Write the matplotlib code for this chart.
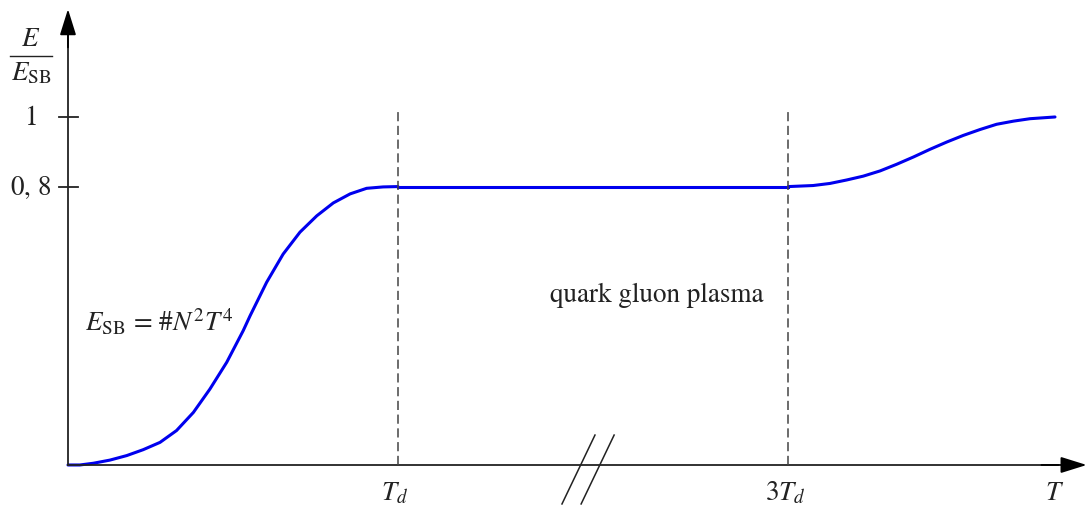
import matplotlib
matplotlib.use("Agg")
import matplotlib.pyplot as plt

plt.rcParams['font.family'] = ['STIXGeneral', 'DejaVu Serif']
plt.rcParams['mathtext.fontset'] = 'stix'

# curve (x in units where T_d = 1, y = E/E_SB)
x_rise = [0.0, 0.036, 0.077, 0.127, 0.178, 0.228, 0.279, 0.329, 0.380, 0.430,
          0.481, 0.531, 0.552, 0.602, 0.652, 0.703, 0.754, 0.804, 0.855,
          0.905, 0.955, 1.0]
y_rise = [0.0, 0.0, 0.005, 0.014, 0.027, 0.044, 0.065, 0.099, 0.151, 0.218,
          0.295, 0.386, 0.429, 0.525, 0.606, 0.669, 0.716, 0.753, 0.779,
          0.795, 0.799, 0.80]
x_flat = [1.0, 2.183]
y_flat = [0.80, 0.80]
x_end = [2.183, 2.258, 2.309, 2.360, 2.410, 2.461, 2.511, 2.562, 2.612,
         2.663, 2.713, 2.764, 2.814, 2.865, 2.915, 2.991]
y_end = [0.80, 0.803, 0.809, 0.819, 0.830, 0.845, 0.864, 0.885, 0.907,
         0.928, 0.947, 0.964, 0.979, 0.988, 0.995, 1.0]

x_ticks = [1.0, 2.183]
x_labels = [r'$T_d$', r'$3T_d$']
y_ticks = [0.8, 1.0]
y_labels = [r'$0,\,8$', r'$1$']

fig = plt.figure(figsize=(10.88, 5.06), dpi=100)
ax = fig.add_axes([0, 0, 1, 1])
ax.set_xlim(-0.206, 3.091)
ax.set_ylim(-0.115, 1.339)
ax.axis('off')

ink = '#222222'
blue = '#0000ee'
fs = 19.5
ax.plot(x_rise, y_rise, color=blue, lw=2.2, solid_capstyle='round')
ax.plot(x_flat, y_flat, color=blue, lw=2.2)
ax.plot(x_end, y_end, color=blue, lw=2.2, solid_capstyle='round')

# axes with arrows
ax.plot([0, 3.0], [0, 0], color=ink, lw=1.3)
ax.plot([0, 0], [0, 1.25], color=ink, lw=1.3)
ax.annotate('', xy=(3.087, 0), xytext=(2.95, 0),
            arrowprops=dict(arrowstyle='-|>,head_length=1.6,head_width=0.5',
                            color='black', lw=1.3, shrinkA=0, shrinkB=0))
ax.annotate('', xy=(0, 1.31), xytext=(0, 1.2),
            arrowprops=dict(arrowstyle='-|>,head_length=1.6,head_width=0.5',
                            color='black', lw=1.3, shrinkA=0, shrinkB=0))

# y ticks
for yt, lab in zip(y_ticks, y_labels):
    ax.plot([-0.027, 0.030], [yt, yt], color=ink, lw=1.3)
    ax.text(-0.113, yt, lab, ha='center', va='center', fontsize=fs, color=ink)

# dashed lines and x labels
for xt, lab in zip(x_ticks, x_labels):
    ax.plot([xt, xt], [0, 1.023], color='#444444', lw=1.1, dashes=(6, 3))
    ax.text(xt - 0.01, -0.078, lab, ha='center', va='center', fontsize=fs, color=ink)
ax.text(2.99, -0.078, r'$T$', ha='center', va='center', fontsize=fs, color=ink)

# axis break marks
for dx in [0.0, 0.058]:
    ax.plot([1.497 + dx, 1.597 + dx], [-0.112, 0.086], color=ink, lw=1.1)

# y label as a fraction
ax.text(-0.112, 1.226, r'$E$', ha='center', va='center', fontsize=fs, color=ink)
ax.plot([-0.176, -0.048], [1.175, 1.175], color=ink, lw=1.0)
ax.text(-0.112, 1.127, r'$E_{\mathrm{SB}}$', ha='center', va='center', fontsize=fs, color=ink)

ax.text(0.052, 0.414, r'$E_{\mathrm{SB}}\,=\,$#$N^2T^4$', ha='left', va='center',
        fontsize=fs, color=ink)
ax.text(1.785, 0.491, 'quark gluon plasma', ha='center', va='center',
        fontsize=fs, color=ink)

fig.savefig('out.png', dpi=100)
